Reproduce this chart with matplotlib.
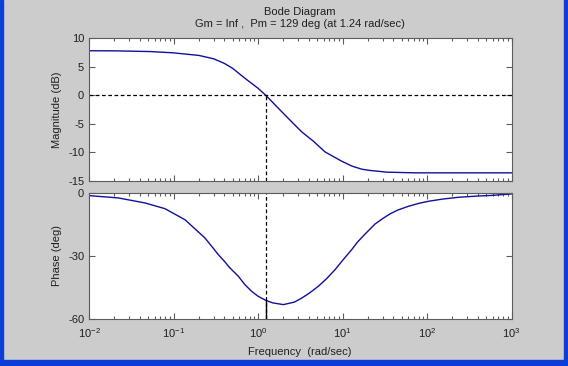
import numpy as np
import matplotlib
matplotlib.use("Agg")
import matplotlib.pyplot as plt
from matplotlib.patches import Rectangle
from matplotlib.ticker import LogLocator, FixedLocator, NullFormatter, FuncFormatter

plt.rcParams['font.family'] = ['Liberation Sans', 'DejaVu Sans']
plt.rcParams['mathtext.fontset'] = 'custom'
plt.rcParams['mathtext.rm'] = 'Liberation Sans'
plt.rcParams['mathtext.it'] = 'Liberation Sans'
plt.rcParams['axes.unicode_minus'] = False

# values
mag_freq = [0.01, 0.02, 0.0527, 0.1, 0.2, 0.3, 0.4, 0.5, 0.7,
            1.0, 1.24, 2.09, 3.29, 4.5, 6.21, 9.78, 13, 16.9, 21.1, 26.6, 33.4, 72, 1000]
mag_db = [7.82, 7.8, 7.68, 7.45, 7.0, 6.4, 5.6, 4.75, 3.0,
          1.25, 0.0, -3.46, -6.39, -8.0, -9.9, -11.53, -12.4, -12.93, -13.15, -13.3, -13.45, -13.57, -13.57]

ph_freq = [0.01, 0.0222, 0.046, 0.079, 0.137, 0.236, 0.3, 0.339, 0.407, 0.457, 0.585,
           0.7, 0.841, 1.0, 1.24, 1.5, 2.0, 2.7, 3.29, 4.0, 5.17, 6.5, 8.15, 10, 12.8,
           15, 18.5, 24.3, 30, 36.5, 45, 60.1, 80, 104, 150, 234, 400, 583, 1000]
ph_deg = [-1.1, -2.2, -4.6, -7.3, -12.6, -21.3, -26.5, -29.2, -32.7, -35.2, -39.5,
          -43.5, -46.7, -49.0, -51.0, -52.2, -53.0, -51.8, -49.9, -47.7, -44.3, -40.6, -36.4, -32.0, -26.9,
          -23.3, -19.4, -14.6, -12.0, -9.8, -8.0, -6.2, -4.8, -3.8, -2.8, -1.9, -1.3, -1.0, -0.3]

wc = 1.24
phase_at_wc = -51
mag_ticks = [10, 5, 0, -5, -10, -15]
ph_ticks = [0, -30, -60]

bg = '#cccccc'
line_col = '#10109a'
axis_col = '#5c5c5c'
text_col = '#202020'

fig = plt.figure(figsize=(5.68, 3.66), dpi=100, facecolor=bg)
W, H = 568.0, 366.0


def box(l, t, r, b):
    return [l / W, 1 - b / H, (r - l) / W, (b - t) / H]


def decade_label(v, pos):
    e = int(round(np.log10(v)))
    return r'$\mathregular{10^{%s}}$' % ('\u002d' + str(-e) if e < 0 else str(e))


ax1 = fig.add_axes(box(89, 38.3, 511.5, 181))
ax2 = fig.add_axes(box(89, 193.3, 511.5, 319.3))

for ax in (ax1, ax2):
    ax.set_xscale('log')
    ax.set_xlim(0.01, 1000)
    ax.tick_params(which='both', direction='in', top=True, right=True,
                   colors=axis_col, labelcolor=text_col, labelsize=8, width=0.8)
    ax.tick_params(which='major', length=4)
    ax.tick_params(which='minor', length=2.5)
    ax.tick_params(axis='y', which='minor', left=False, right=False)
    ax.xaxis.set_major_locator(LogLocator(base=10, numticks=10))
    ax.xaxis.set_minor_locator(LogLocator(base=10, subs=np.arange(2, 10), numticks=20))
    ax.xaxis.set_minor_formatter(NullFormatter())
    for s in ax.spines.values():
        s.set_color(axis_col)
        s.set_linewidth(0.8)

ax1.plot(mag_freq, mag_db, color=line_col, lw=1)
ax1.axhline(0, color='black', ls=(0, (3, 2)), lw=0.9)
ax1.plot([wc, wc], [-15, 0], color='black', ls=(0, (3, 2)), lw=0.9)
ax1.set_ylim(-15, 10)
ax1.yaxis.set_major_locator(FixedLocator(mag_ticks))
ax1.xaxis.set_major_formatter(NullFormatter())

ax2.plot(ph_freq, ph_deg, color=line_col, lw=1)
ax2.plot([wc, wc], [-60, 0], color='black', ls=(0, (3, 2)), lw=0.9)
ax2.plot([wc, wc], [-60, phase_at_wc], color='black', lw=1)
ax2.set_ylim(-60, 0)
ax2.yaxis.set_major_locator(FixedLocator(ph_ticks))
ax2.xaxis.set_major_formatter(FuncFormatter(decade_label))
ax2.tick_params(axis='x', pad=5)

xc = (89 + 511.5) / 2 / W
fig.text(xc, 1 - 12 / H, 'Bode Diagram', ha='center', va='center', fontsize=8, color=text_col)
fig.text(xc, 1 - 24 / H, 'Gm = Inf ,  Pm = 129 deg (at 1.24 rad/sec)',
         ha='center', va='center', fontsize=8, color=text_col)
fig.text(xc, 1 - 352 / H, 'Frequency  (rad/sec)', ha='center', va='center',
         fontsize=8, color=text_col)
fig.text(57 / W, 1 - 110 / H, 'Magnitude (dB)', rotation=90, ha='center', va='center',
         fontsize=8, color=text_col)
fig.text(57 / W, 1 - 256 / H, 'Phase (deg)', rotation=90, ha='center', va='center',
         fontsize=8, color=text_col)

# window frame
frame = '#0b3ed8'
fig.patches.append(Rectangle((0, 0), 3 / W, 1, transform=fig.transFigure, color=frame, zorder=0))
fig.patches.append(Rectangle((1 - 4 / W, 0), 4 / W, 1, transform=fig.transFigure, color=frame, zorder=0))
fig.patches.append(Rectangle((0, 0), 1, 6 / H, transform=fig.transFigure, color=frame, zorder=0))

fig.savefig('out.png', dpi=100, facecolor=bg)
